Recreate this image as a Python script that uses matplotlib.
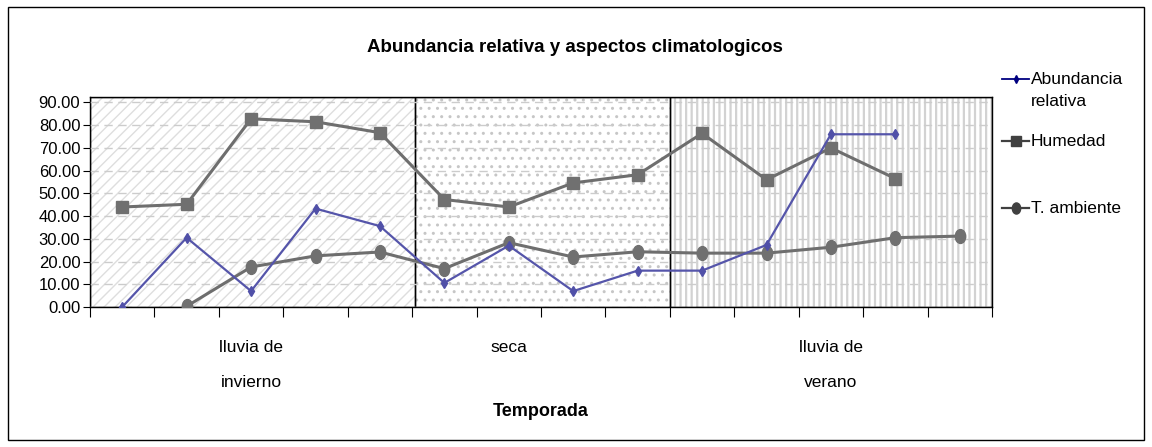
import numpy as np
import matplotlib
matplotlib.use("Agg")
import matplotlib.pyplot as plt
import matplotlib.patches as mpatches
import matplotlib.path as mpath
from matplotlib.lines import Line2D
from matplotlib.transforms import Affine2D

plt.rcParams['font.family'] = ['Liberation Sans Narrow', 'Liberation Sans', 'DejaVu Sans']

# datos (14 muestreos)
etiquetas = ['', '', 'lluvia de\ninvierno', '', '', '', 'seca', '', '', '', '',
             'lluvia de\nverano', '', '']
abundancia = [0, 30.5, 7, 43.3, 35.6, 10.6, 27, 7, 16, 16, 27.3, 76, 76, np.nan]
humedad = [44, 45.2, 82.8, 81.5, 76.7, 47.3, 44, 54.6, 58.2, 76.4, 56, 70, 56.5, np.nan]
t_ambiente = [np.nan, 0.3, 17.6, 22.5, 24.2, 16.9, 28.3, 22, 24.3, 23.7, 23.7, 26.3, 30.5, 31.2]
series = ['Abundancia\nrelativa', 'Humedad', 'T. ambiente']

# limites de cada temporada (en unidades de categoria)
temporada_ini = [0, 5.05, 9.0]
temporada_fin = [5.05, 9.0, 14]

x = np.arange(len(abundancia)) + 0.5
W, H = 1152, 447

fig = plt.figure(figsize=(11.52, 4.47), dpi=100)
ax = fig.add_axes([90 / W, 1 - 307 / H, 902 / W, 210 / H])

# fondos con tramas
tramas = ['///', '..', '|||']
colores_trama = ['#dedede', '#c6c6c6', '#d2d2d2']
grosor_trama = [1.0, 1.0, 1.6]
for a, b, h, c, g in zip(temporada_ini, temporada_fin, tramas, colores_trama, grosor_trama):
    p = ax.axvspan(a, b, facecolor='white', edgecolor=c, hatch=h, lw=0, zorder=0)
    if hasattr(p, 'set_hatch_linewidth'):
        p.set_hatch_linewidth(g)
    ax.axvspan(a, b, facecolor='none', edgecolor='black', lw=1, zorder=1)

ax.yaxis.grid(True, color='#cccccc', ls=(0, (6, 4)), lw=1, zorder=1.5)
ax.set_axisbelow(False)

elipse = mpath.Path.unit_circle().transformed(Affine2D().scale(0.75, 1))

ax.plot(x, humedad, color='#6e6e6e', lw=2.2, marker='s', ms=8, mfc='#707070',
        mec='#707070', zorder=3)
ax.plot(x, t_ambiente, color='#6e6e6e', lw=2.2, marker=elipse, ms=10, mfc='#707070',
        mec='#707070', zorder=3)
ax.plot(x, abundancia, color='#5555aa', lw=1.6, marker='d', ms=5, mfc='#5050a8',
        mec='#5050a8', zorder=4)

ax.set_xlim(0, 14)
ax.set_ylim(0, 92.4)
ax.set_yticks(np.arange(0, 91, 10))
ax.set_yticklabels([f'{v:.2f}' for v in np.arange(0, 91, 10)], fontsize=12)
ax.set_xticks(np.arange(0, 15))
ax.set_xticklabels([])
ax.set_xticks(x, minor=True)
ax.set_xticklabels(etiquetas, minor=True, fontsize=12.5, linespacing=2.65)
ax.tick_params(axis='x', which='major', length=7, direction='out', color='black')
ax.tick_params(axis='x', which='minor', length=0, pad=24)
ax.tick_params(axis='y', length=5, pad=2)
for s in ax.spines.values():
    s.set_color('black')
    s.set_linewidth(1)
ax.set_xlabel('Temporada', fontsize=13, fontweight='bold')
ax.xaxis.set_label_coords(0.5, -0.455)

fig.text(575 / W, 1 - 48 / H, 'Abundancia relativa y aspectos climatologicos',
         ha='center', va='center', fontsize=13.5, fontweight='bold')

# leyenda a mano (la entrada de Abundancia tiene dos lineas)
leyenda_y = [79, 141, 208]
estilos = [dict(color='#000080', lw=1.3, marker='d', ms=4),
           dict(color='#404040', lw=1.6, marker='s', ms=7),
           dict(color='#404040', lw=1.6, marker=elipse, ms=8)]
for nombre, yy, st in zip(series, leyenda_y, estilos):
    fy = 1 - yy / H
    fig.add_artist(Line2D([1002 / W, 1015.5 / W, 1029 / W], [fy, fy, fy],
                          transform=fig.transFigure, markevery=[1], **st))
    fig.text(1031 / W, fy + 7 / H, nombre, ha='left', va='top', fontsize=12.5,
             linespacing=1.6)

fig.add_artist(mpatches.Rectangle((8 / W, 7 / H), 1136 / W, 433 / H,
                                  transform=fig.transFigure, fill=False,
                                  edgecolor='black', lw=1))

fig.savefig('out.png', dpi=100)
